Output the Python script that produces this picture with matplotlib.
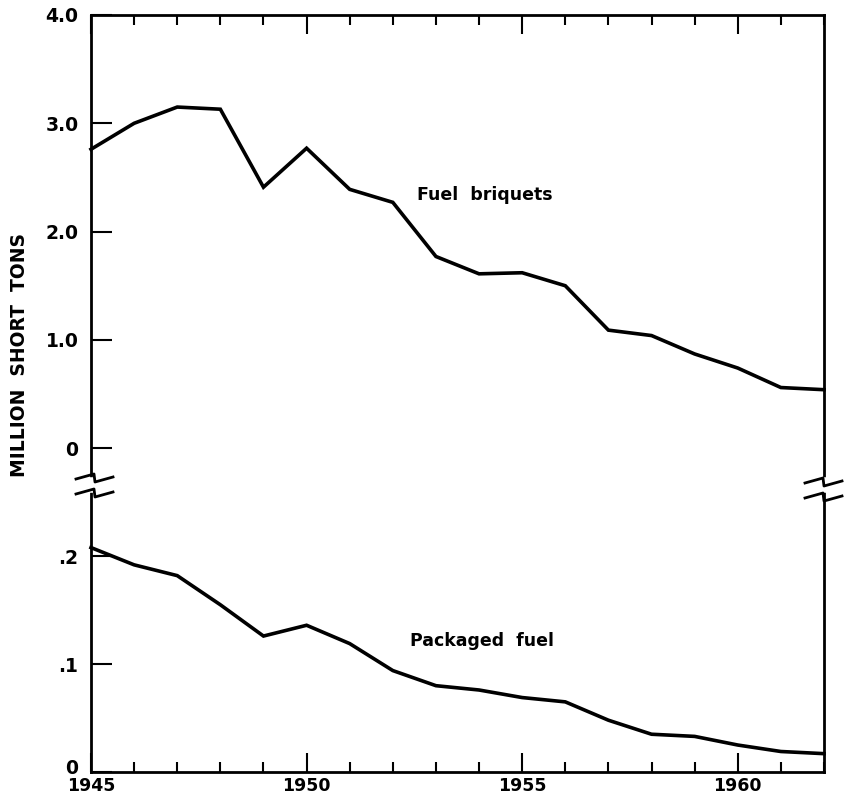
import matplotlib
matplotlib.use("Agg")
import matplotlib.pyplot as plt
from matplotlib.lines import Line2D
from matplotlib.ticker import FixedLocator, MultipleLocator
from matplotlib.transforms import ScaledTranslation

years = list(range(1945, 1963))
fuel_briquets = [2.76, 3.00, 3.15, 3.13, 2.41, 2.77, 2.39, 2.27, 1.77, 1.61,
                 1.62, 1.50, 1.09, 1.04, 0.87, 0.74, 0.56, 0.54]
packaged_fuel = [0.208, 0.192, 0.182, 0.155, 0.126, 0.136, 0.119, 0.094, 0.080,
                 0.076, 0.069, 0.065, 0.048, 0.035, 0.033, 0.025, 0.019, 0.017]

top_ticks = [0, 1.0, 2.0, 3.0, 4.0]
top_ticklabels = ["0", "1.0", "2.0", "3.0", "4.0"]
bot_ticks = [0, 0.1, 0.2]
bot_ticklabels = ["0", ".1", ".2"]
x_ticks = [1945, 1950, 1955, 1960]

W, H = 845, 800
fig = plt.figure(figsize=(W / 100, H / 100), dpi=100)

left, right = 91 / W, 824 / W
top_px, brk_px, bot_px = 15, 485, 772
ax1 = fig.add_axes([left, 1 - brk_px / H, right - left, (brk_px - top_px) / H])
ax2 = fig.add_axes([left, 1 - bot_px / H, right - left, (bot_px - brk_px) / H])

lw_line = 2.6
font = dict(family="DejaVu Sans", weight="bold")

for ax in (ax1, ax2):
    ax.set_xlim(1945, 1962)
    for s in ax.spines.values():
        s.set_linewidth(2.0)
    ax.xaxis.set_major_locator(FixedLocator(x_ticks))
    ax.xaxis.set_minor_locator(MultipleLocator(1))

ax1.plot(years, fuel_briquets, color="black", lw=lw_line, solid_joinstyle="miter", clip_on=False)
ax2.plot(years, packaged_fuel, color="black", lw=lw_line, solid_joinstyle="miter", clip_on=False)

ax1.set_ylim(-0.34, 4.0)
ax2.set_ylim(0, 0.266)

ax1.spines["bottom"].set_visible(False)
ax2.spines["top"].set_visible(False)

ax1.set_yticks(top_ticks)
ax1.set_yticklabels(top_ticklabels, fontsize=13.5, **font)
ax2.set_yticks(bot_ticks)
ax2.set_yticklabels(bot_ticklabels, fontsize=13.5, **font)

for ax in (ax1, ax2):
    ax.tick_params(axis="y", which="major", direction="in", length=15, width=1.5,
                   left=True, right=False, pad=9)

ax1.tick_params(axis="x", which="major", direction="in", length=14, width=1.5,
                top=True, bottom=False, labelbottom=False, labeltop=False)
ax1.tick_params(axis="x", which="minor", direction="in", length=7, width=1.5,
                top=True, bottom=False)
ax2.tick_params(axis="x", which="major", direction="in", length=14, width=1.5,
                top=False, bottom=True, pad=3.5)
ax2.tick_params(axis="x", which="minor", direction="in", length=7, width=1.5,
                top=False, bottom=True)
ax2.set_xticklabels([str(x) for x in x_ticks], fontsize=12.5, **font)

# nudge the bottom "0" label up a little so it clears "1945"
zero_lbl = ax2.get_yticklabels()[0]
zero_lbl.set_transform(zero_lbl.get_transform() + ScaledTranslation(0, 6 / 100, fig.dpi_scale_trans))

# break marks (pixel coords, top-left origin)
def zig(xc, yc):
    pts_x = [xc - 17, xc + 1, xc + 2, xc + 20]
    pts_y = [yc + 5, yc, yc + 8, yc + 3]
    fx = [p / W for p in pts_x]
    fy = [1 - p / H for p in pts_y]
    fig.add_artist(Line2D(fx, fy, color="black", lw=2.0, transform=fig.transFigure))

for xc in (91, 824):
    fig.add_artist(Line2D([xc / W, xc / W], [1 - 480 / H, 1 - 490 / H], color="white",
                          lw=4, transform=fig.transFigure))
zig(93, 474)
zig(93, 489)
zig(822, 478)
zig(822, 493)

ax1.text(1952.55, 2.34, "Fuel  briquets", fontsize=12.5, va="center", **font)
ax2.text(1952.4, 0.121, "Packaged  fuel", fontsize=12.5, va="center", **font)

fig.text(20 / W, 1 - 355 / H, "MILLION  SHORT  TONS", rotation=90, ha="center", va="center",
         fontsize=13.5, **font)

fig.savefig("out.png", dpi=100)
